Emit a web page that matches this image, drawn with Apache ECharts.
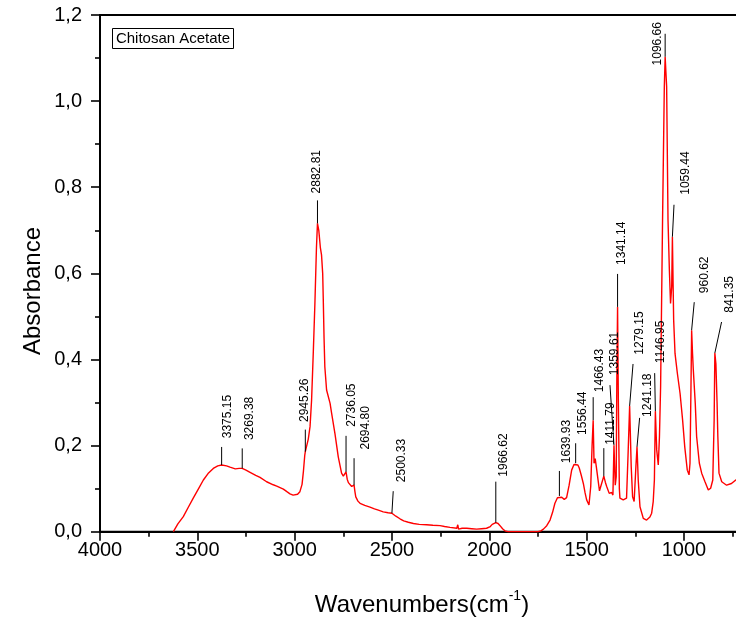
<!DOCTYPE html>
<html>
<head>
<meta charset="utf-8">
<title>Chitosan Acetate FTIR</title>
<script src="https://cdn.jsdelivr.net/npm/echarts/dist/echarts.min.js"></script>
<style>
  html, body { margin: 0; padding: 0; background: #fff; }
  #chart { width: 736px; height: 624px; }
</style>
</head>
<body>
<div id="chart"></div>
<script>
// FTIR absorbance spectrum of chitosan acetate (wavenumber in cm-1, descending)
const wavenumbers = [
  3623, 3600, 3572, 3545, 3521, 3495, 3469, 3445, 3418, 3395, 3375.15, 3350, 3332, 3305, 3285, 3269.38,
  3250, 3229, 3200, 3178, 3144, 3110, 3092, 3058, 3040, 3024, 3008, 2998, 2985, 2973, 2962, 2955,
  2948, 2945.26, 2939, 2930, 2921, 2913, 2904, 2896, 2888, 2882.81, 2876, 2868, 2862, 2856, 2853, 2849,
  2845, 2836, 2818, 2810, 2801, 2793, 2776, 2759, 2750, 2742, 2736.05, 2730, 2724, 2707, 2700, 2694.80,
  2690, 2686, 2675, 2664, 2640, 2613, 2590, 2570, 2545, 2520, 2500.33, 2480, 2459, 2440, 2416, 2390,
  2360, 2322, 2290, 2253, 2230, 2202, 2167, 2162, 2158, 2140, 2116, 2090, 2065, 2040, 2014, 1995,
  1985, 1975, 1966.62, 1955, 1945, 1932, 1920, 1905, 1850, 1800, 1750, 1735, 1722, 1705, 1688, 1675,
  1663, 1650, 1639.93, 1628, 1615, 1603, 1590, 1577, 1565, 1556.44, 1545, 1538, 1527, 1517, 1508, 1500,
  1488, 1479, 1472, 1466.43, 1462, 1456, 1450, 1446, 1434, 1423, 1411.79, 1404, 1397, 1384, 1372, 1365,
  1359.61, 1353, 1348, 1345, 1341.14, 1337, 1332, 1329, 1312, 1295, 1287, 1279.15, 1271, 1264, 1256, 1247,
  1241.18, 1235, 1226, 1209, 1192, 1175, 1166, 1158, 1152, 1146.95, 1140, 1132, 1126, 1120, 1110, 1101,
  1096.66, 1092, 1089, 1082, 1075, 1069, 1063, 1059.44, 1056, 1053, 1046, 1034, 1020, 1007, 996, 983,
  974, 969, 964, 960.62, 956, 952, 947, 942, 935, 921, 909, 892, 875, 863, 852, 845,
  841.35, 836, 830, 826, 820, 806, 781, 756, 734, 715
];
const absorbance = [
  0.000, 0.018, 0.035, 0.058, 0.078, 0.099, 0.120, 0.135, 0.147, 0.153, 0.155, 0.153, 0.150, 0.146, 0.147, 0.147,
  0.143, 0.138, 0.131, 0.126, 0.116, 0.109, 0.106, 0.099, 0.093, 0.088, 0.085, 0.085, 0.087, 0.093, 0.110, 0.140,
  0.178, 0.186, 0.190, 0.215, 0.244, 0.306, 0.420, 0.530, 0.660, 0.716, 0.700, 0.660, 0.643, 0.600, 0.540, 0.450,
  0.383, 0.329, 0.298, 0.275, 0.271, 0.228, 0.174, 0.136, 0.129, 0.131, 0.139, 0.122, 0.114, 0.105, 0.104, 0.108,
  0.092, 0.081, 0.071, 0.066, 0.061, 0.057, 0.053, 0.050, 0.046, 0.044, 0.043, 0.036, 0.030, 0.025, 0.022, 0.019,
  0.017, 0.016, 0.015, 0.014, 0.012, 0.010, 0.008, 0.016, 0.006, 0.008, 0.008, 0.007, 0.006, 0.007, 0.008, 0.012,
  0.017, 0.020, 0.021, 0.019, 0.014, 0.007, 0.002, 0.000, 0.000, 0.000, 0.000, 0.002, 0.006, 0.014, 0.027, 0.045,
  0.066, 0.079, 0.083, 0.080, 0.075, 0.079, 0.108, 0.143, 0.156, 0.159, 0.155, 0.148, 0.130, 0.112, 0.090, 0.074,
  0.062, 0.105, 0.200, 0.259, 0.159, 0.170, 0.150, 0.136, 0.095, 0.112, 0.129, 0.115, 0.105, 0.089, 0.091, 0.085,
  0.201, 0.108, 0.128, 0.350, 0.522, 0.300, 0.100, 0.078, 0.074, 0.078, 0.182, 0.292, 0.151, 0.081, 0.070, 0.151,
  0.197, 0.120, 0.058, 0.031, 0.027, 0.034, 0.043, 0.070, 0.120, 0.280, 0.190, 0.155, 0.220, 0.337, 0.724, 1.033,
  1.103, 1.060, 1.033, 0.724, 0.608, 0.530, 0.569, 0.685, 0.580, 0.492, 0.414, 0.368, 0.321, 0.259, 0.197, 0.143,
  0.132, 0.159, 0.337, 0.468, 0.414, 0.376, 0.379, 0.298, 0.221, 0.159, 0.136, 0.116, 0.097, 0.101, 0.120, 0.259,
  0.415, 0.390, 0.300, 0.221, 0.136, 0.116, 0.108, 0.112, 0.120, 0.120
];

// Picked peaks (text of each label is its wavenumber)
const peakLabels = [
  '3375.15', '3269.38', '2945.26', '2882.81', '2736.05', '2694.80', '2500.33', '1966.62',
  '1639.93', '1556.44', '1466.43', '1411.79', '1359.61', '1341.14', '1279.15', '1241.18',
  '1146.95', '1096.66', '1059.44', '960.62', '841.35'
];

// Axis ticks
const xTickStep = 500;
const yTicks = [0, 0.2, 0.4, 0.6, 0.8, 1.0, 1.2];

// Leader line / label placement for each peak, in pixels relative to the peak:
// dx, len -> top end of the leader line; tx, ty -> text anchor relative to that end
const peakLabelLayout = [
  { dx: 0,    len: 18, tx: 0,    ty: -8.7 },
  { dx: 0,    len: 20, tx: 1.2,  ty: -8.3 },
  { dx: 0,    len: 22, tx: -6.5, ty: -7.6 },
  { dx: 0,    len: 23, tx: -6.5, ty: -7 },
  { dx: 0,    len: 36, tx: -0.5, ty: -9 },
  { dx: 0,    len: 27, tx: 6,    ty: -8.7 },
  { dx: 1.3,  len: 22, tx: 2,    ty: -9 },
  { dx: 0,    len: 41, tx: 1.5,  ty: -5 },
  { dx: 0,    len: 25, tx: 1.2,  ty: -7.7 },
  { dx: 0,    len: 20, tx: 0.8,  ty: -8.3 },
  { dx: 0,    len: 23, tx: 0.8,  ty: -5 },
  { dx: 0,    len: 28, tx: 0.8,  ty: -3.3 },
  { dx: -4,   len: 60, tx: -1.5, ty: -10 },
  { dx: 0,    len: 33, tx: -1.5, ty: -9 },
  { dx: 3.4,  len: 42, tx: 0.8,  ty: -9.3 },
  { dx: 2.6,  len: 29, tx: 2.5,  ty: -1 },
  { dx: -0.7, len: 38, tx: 0.2,  ty: -10 },
  { dx: 0,    len: 23, tx: -1.3, ty: 31.7, left: true },
  { dx: 1.6,  len: 32, tx: 6,    ty: -10 },
  { dx: 2.6,  len: 28, tx: 4.2,  ty: -9 },
  { dx: 6.7,  len: 31, tx: 1.8,  ty: -9.3 }
];

const FONT = '"Liberation Sans", Arial, Helvetica, sans-serif';

const spectrum = wavenumbers.map((w, i) => [w, absorbance[i]]);
const peaks = peakLabels.map(t => {
  const w = parseFloat(t);
  const i = wavenumbers.indexOf(w);
  return [w, absorbance[i]];
});

const chart = echarts.init(document.getElementById('chart'), null, { renderer: 'canvas' });

const axisCommon = {
  axisLine: { show: true, onZero: false, lineStyle: { color: '#000', width: 2 } },
  axisTick: { show: true, inside: false, length: 9, lineStyle: { color: '#000', width: 1.6 } },
  minorTick: { show: true, splitNumber: 2, length: 5, lineStyle: { color: '#000', width: 1.6 } },
  splitLine: { show: false },
  minorSplitLine: { show: false }
};

chart.setOption({
  animation: false,
  backgroundColor: '#fff',
  grid: {
    left: 100, top: 15, width: 681.3, height: 516.7,
    outerBoundsMode: 'none',
    containLabel: false,
    show: true, borderColor: '#000', borderWidth: 2, backgroundColor: 'transparent'
  },
  xAxis: Object.assign({
    type: 'value',
    inverse: true,
    min: 500,
    max: 4000,
    interval: xTickStep,
    axisLabel: {
      color: '#000', fontSize: 20, fontFamily: FONT, margin: 9,
      formatter: v => String(v)
    }
  }, axisCommon),
  yAxis: Object.assign({
    type: 'value',
    min: yTicks[0],
    max: yTicks[yTicks.length - 1],
    interval: yTicks[1] - yTicks[0],
    axisLabel: {
      color: '#000', fontSize: 20, fontFamily: FONT, margin: 18,
      formatter: v => v.toFixed(1).replace('.', ',')
    }
  }, axisCommon),
  series: [
    {
      type: 'line',
      data: spectrum,
      showSymbol: false,
      symbol: 'none',
      lineStyle: { color: '#ff0000', width: 1.4 },
      clip: true,
      z: 3
    },
    {
      type: 'custom',
      data: peaks,
      z: 4,
      renderItem: function (params, api) {
        const p = api.coord([api.value(0), api.value(1)]);
        const L = peakLabelLayout[params.dataIndex];
        const tx = p[0] + L.dx;
        const ty = p[1] - L.len;
        const va = L.left ? 'bottom' : 'top';
        return {
          type: 'group',
          children: [
            {
              type: 'line',
              shape: { x1: p[0], y1: p[1], x2: tx, y2: ty },
              style: { stroke: '#000', lineWidth: 1 }
            },
            {
              type: 'text',
              x: tx + L.tx,
              y: ty + L.ty,
              rotation: Math.PI / 2,
              style: {
                text: peakLabels[params.dataIndex],
                fill: '#000',
                font: '12px ' + FONT,
                textAlign: 'left',
                textVerticalAlign: va,
                align: 'left',
                verticalAlign: va
              }
            }
          ]
        };
      }
    }
  ],
  graphic: [
    {
      type: 'rect',
      shape: { x: 112.5, y: 28.5, width: 121, height: 20 },
      style: { fill: '#fff', stroke: '#000', lineWidth: 1 },
      z: 10
    },
    {
      type: 'text',
      x: 173, y: 38.5,
      style: {
        text: 'Chitosan Acetate', fill: '#000', font: '15px ' + FONT,
        textAlign: 'center', textVerticalAlign: 'middle', align: 'center', verticalAlign: 'middle'
      },
      z: 11
    },
    {
      type: 'text',
      x: 33, y: 291,
      rotation: Math.PI / 2,
      style: {
        text: 'Absorbance', fill: '#000', font: '24px ' + FONT,
        textAlign: 'center', textVerticalAlign: 'middle', align: 'center', verticalAlign: 'middle'
      }
    },
    {
      type: 'text',
      x: 422, y: 589,
      style: {
        text: '{m|Wavenumbers(cm}{s|-1}{m|)}',
        fill: '#000',
        textAlign: 'center', textVerticalAlign: 'top', align: 'center', verticalAlign: 'top',
        rich: {
          m: { fontSize: 24, fontFamily: FONT, lineHeight: 28, verticalAlign: 'bottom', fill: '#000' },
          s: { fontSize: 14, fontFamily: FONT, lineHeight: 14, verticalAlign: 'top', fill: '#000' }
        }
      }
    }
  ]
});
</script>
</body>
</html>
